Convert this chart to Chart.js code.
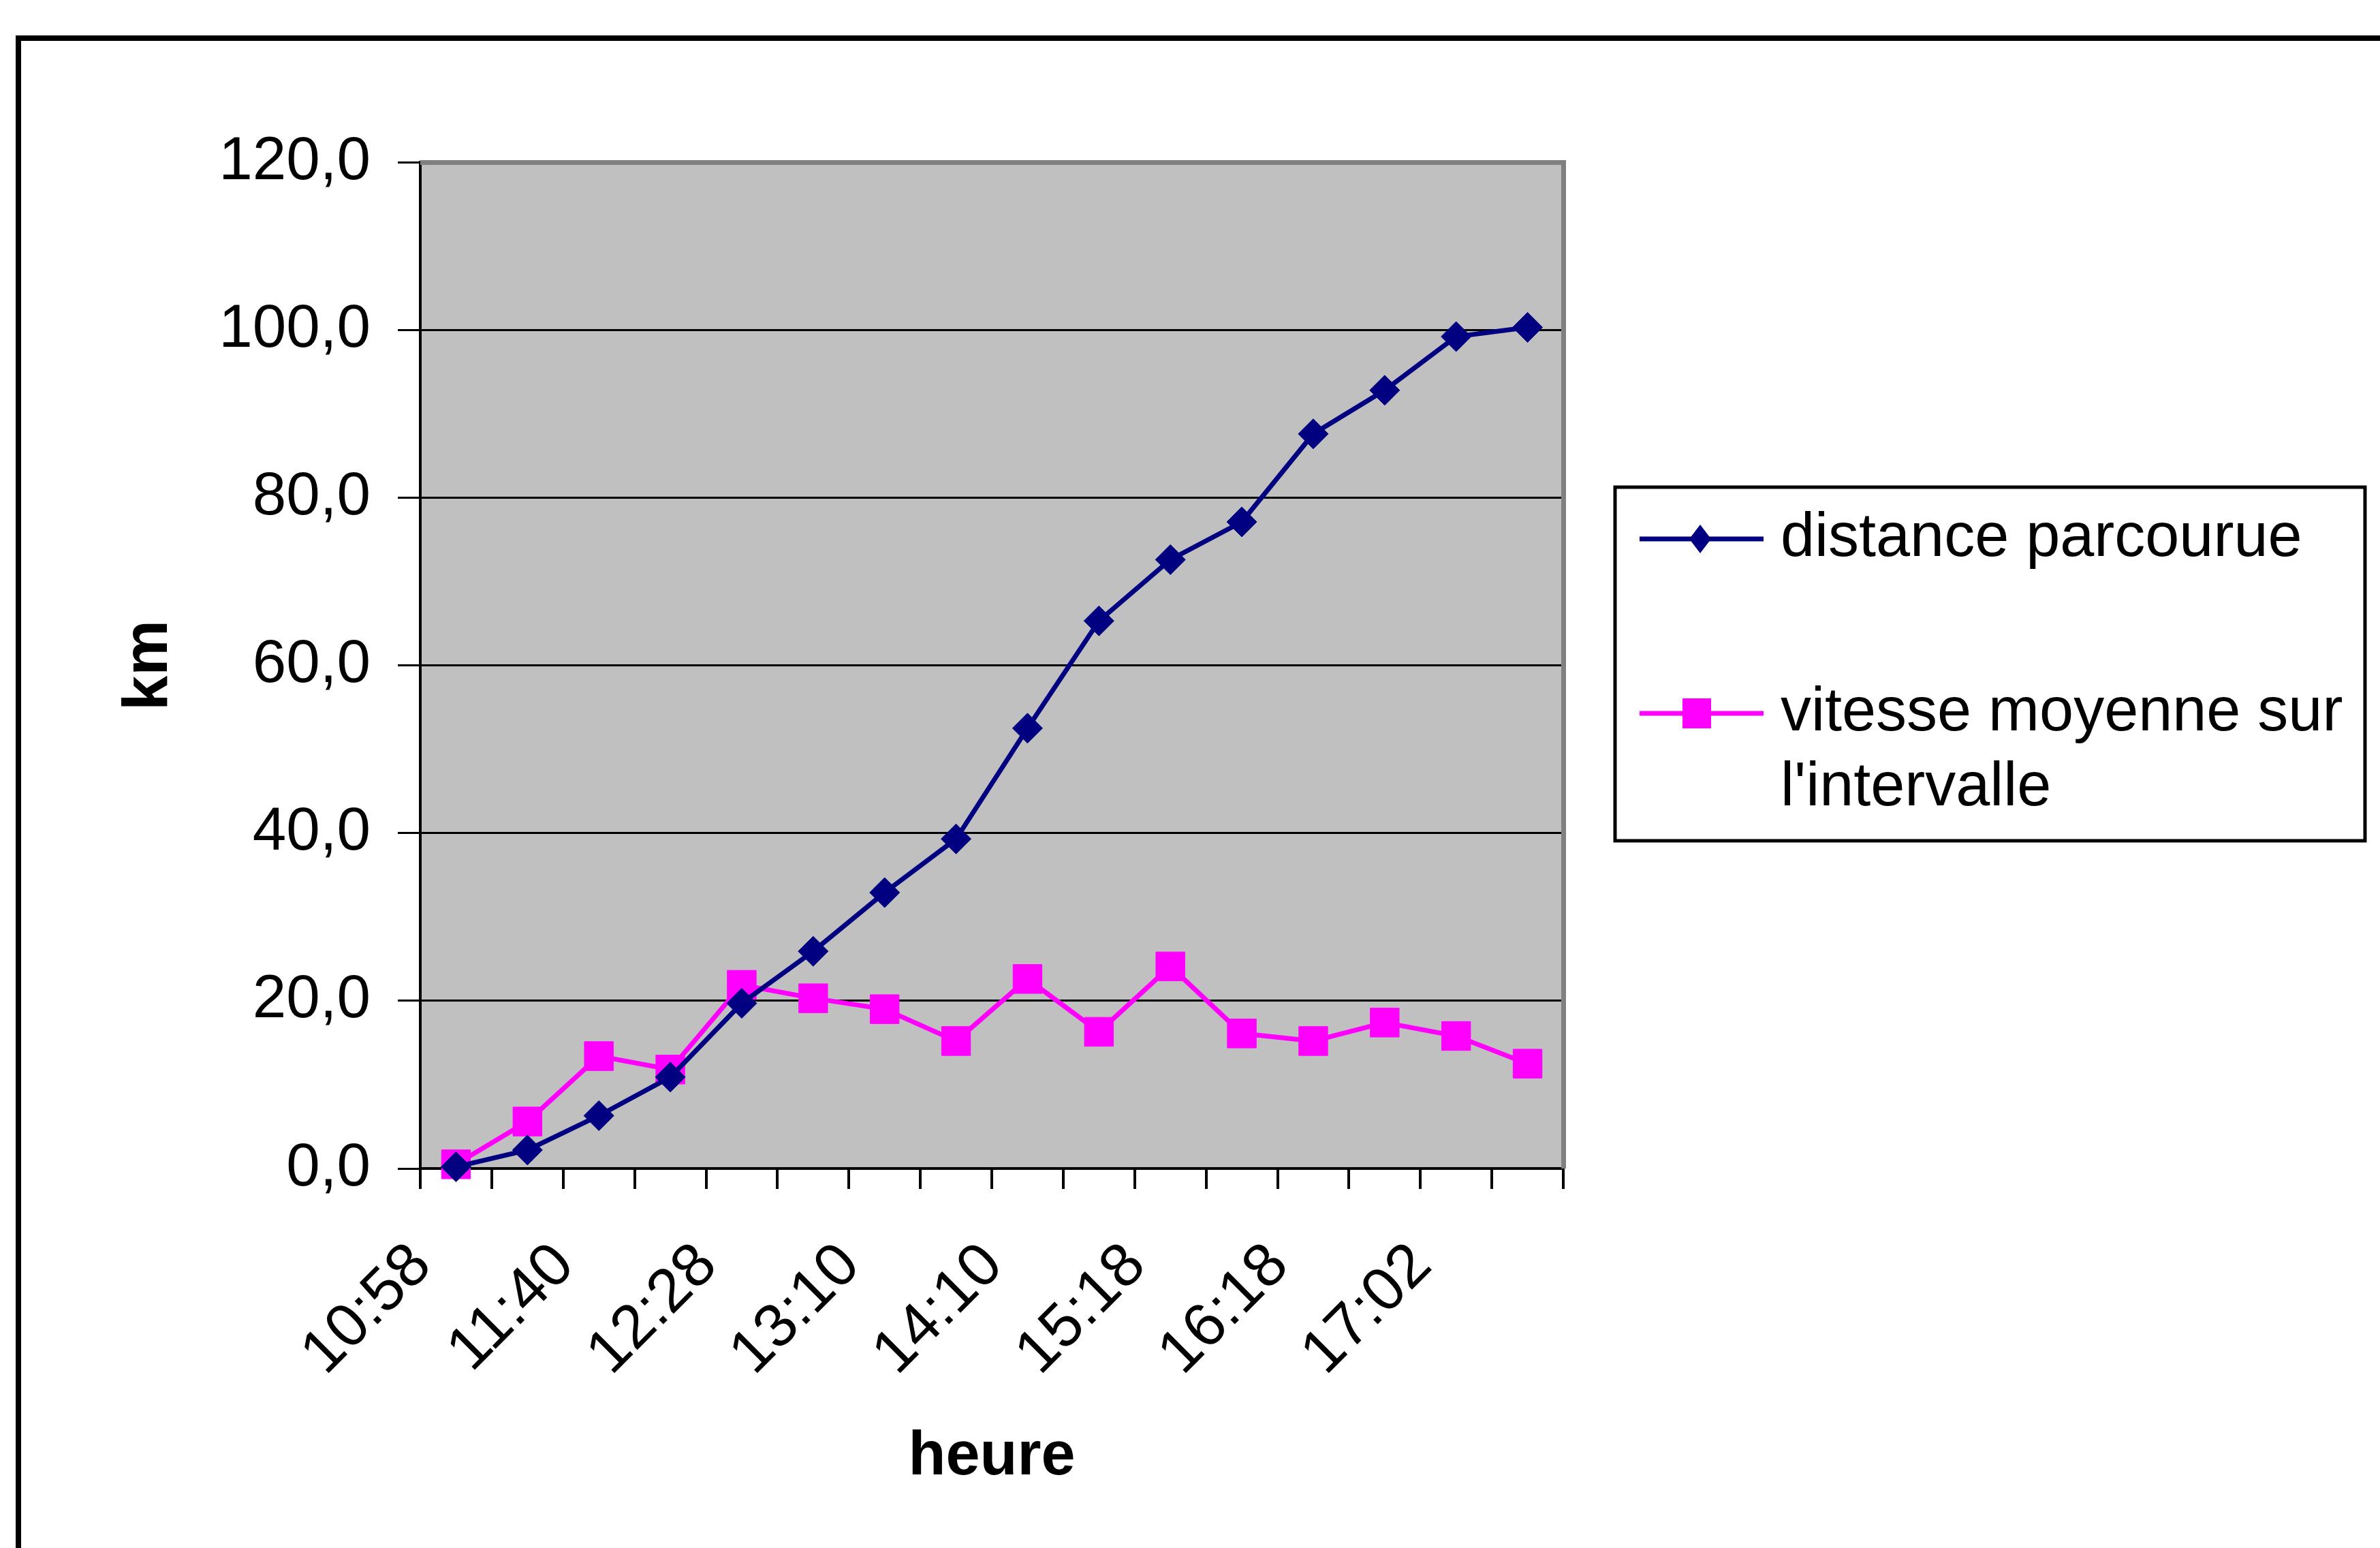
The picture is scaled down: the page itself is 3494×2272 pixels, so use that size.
<!DOCTYPE html>
<html>
<head>
<meta charset="utf-8">
<script src="https://cdn.jsdelivr.net/npm/chart.js@4"></script>
<style>
  html, body { margin: 0; padding: 0; background: #fff; }
  canvas { display: block; }
</style>
</head>
<body>
<canvas id="chart" width="3494" height="2272"></canvas>
<script>
// heures de relevé (une sur deux affichée sur l'axe)
const heures = ['10:58', '11:20', '11:40', '12:02', '12:28', '12:47', '13:10', '13:35',
                '14:10', '14:56', '15:18', '15:35', '16:18', '16:36', '17:02', '17:08'];
// distance parcourue (km)
const distance = [0.2, 2.2, 6.3, 10.9, 19.7, 25.9, 32.9, 39.3, 52.5, 65.3, 72.6, 77.1, 87.6, 92.8, 99.2, 100.3];
// vitesse moyenne sur l'intervalle (km/h)
const vitesse = [0.5, 5.6, 13.4, 11.8, 21.9, 20.3, 19.0, 15.2, 22.6, 16.3, 24.1, 16.1, 15.2, 17.4, 15.8, 12.5];
const yTicks = [0, 20, 40, 60, 80, 100, 120];
const legendLines = [['distance parcourue'], ['vitesse moyenne sur', "l'intervalle"]];

const FONT = "'Liberation Sans', Arial, sans-serif";
const NAVY = '#000080';
const MAGENTA = '#FF00FF';

// fond gris, cadre de la zone de tracé, cadre extérieur et légende
const decor = {
    id: 'decor',
    beforeDraw(chart) {
        const ctx = chart.ctx;
        const a = chart.chartArea;
        ctx.save();
        ctx.fillStyle = '#fff';
        ctx.fillRect(0, 0, chart.width, chart.height);
        ctx.fillStyle = '#000';
        ctx.fillRect(23, 52, chart.width - 23, 8);
        ctx.fillRect(23, 52, 8, chart.height - 52);
        ctx.fillStyle = '#C0C0C0';
        ctx.fillRect(a.left, a.top, a.right - a.left, a.bottom - a.top);
        ctx.restore();
    },
    beforeDatasetsDraw(chart) {
        const ctx = chart.ctx;
        const a = chart.chartArea;
        ctx.save();
        ctx.fillStyle = '#808080';
        ctx.fillRect(a.left, a.top - 3, a.right - a.left + 3, 7);
        ctx.fillRect(a.right - 3, a.top - 3, 7, a.bottom - a.top + 3);
        ctx.restore();
    },
    afterDraw(chart) {
        const ctx = chart.ctx;
        ctx.save();
        ctx.strokeStyle = '#000';
        ctx.lineWidth = 5;
        ctx.strokeRect(2371, 715, 1101, 519);
        ctx.font = '90px ' + FONT;
        ctx.textBaseline = 'middle';
        ctx.fillStyle = '#000';
        const rows = [791, 1047];
        chart.data.datasets.forEach((ds, i) => {
            const y = rows[i];
            ctx.strokeStyle = ds.borderColor;
            ctx.lineWidth = 7;
            ctx.beginPath();
            ctx.moveTo(2407, y);
            ctx.lineTo(2589, y);
            ctx.stroke();
            ctx.fillStyle = ds.pointBackgroundColor;
            ctx.beginPath();
            if (ds.pointStyle === 'rect') {
                ctx.rect(2470, y - 22, 42, 44);
            } else {
                ctx.moveTo(2496, y - 21);
                ctx.lineTo(2512, y);
                ctx.lineTo(2496, y + 21);
                ctx.lineTo(2480, y);
                ctx.closePath();
            }
            ctx.fill();
            ctx.fillStyle = '#000';
            legendLines[i].forEach((t, j) => ctx.fillText(t, 2614, y + j * 110));
        });
        ctx.restore();
    }
};

new Chart(document.getElementById('chart'), {
    type: 'line',
    data: {
        labels: heures,
        datasets: [{
            label: 'distance parcourue',
            data: distance,
            borderColor: NAVY,
            backgroundColor: NAVY,
            pointBackgroundColor: NAVY,
            pointBorderColor: NAVY,
            borderWidth: 7,
            pointStyle: 'rectRot',
            pointRadius: 22,
            pointBorderWidth: 1,
            tension: 0,
            clip: false
        }, {
            label: "vitesse moyenne sur l'intervalle",
            data: vitesse,
            borderColor: MAGENTA,
            backgroundColor: MAGENTA,
            pointBackgroundColor: MAGENTA,
            pointBorderColor: MAGENTA,
            borderWidth: 7,
            pointStyle: 'rect',
            pointRadius: 30,
            pointBorderWidth: 1,
            tension: 0,
            clip: false
        }]
    },
    options: {
        responsive: false,
        animation: false,
        events: [],
        layout: { padding: { left: 0, top: 238, right: 1199, bottom: 0 } },
        plugins: { legend: { display: false }, tooltip: { enabled: false } },
        scales: {
            x: {
                offset: true,
                afterFit(scale) { scale.height = 557; },
                border: { color: '#000', width: 4 },
                grid: { offset: true, drawOnChartArea: false, drawTicks: true, tickLength: 30, color: '#000', lineWidth: 4 },
                ticks: {
                    autoSkip: false,
                    minRotation: 45,
                    maxRotation: 45,
                    padding: 60,
                    labelOffset: -50,
                    color: '#000',
                    font: { family: FONT, size: 90 },
                    callback: function (val, i) { return i % 2 === 0 ? this.getLabelForValue(val) : ''; }
                },
                title: {
                    display: true,
                    text: 'heure',
                    color: '#000',
                    font: { family: FONT, size: 90, weight: 'bold' },
                    padding: { top: 0, bottom: 79 }
                }
            },
            y: {
                min: 0,
                max: 120,
                afterFit(scale) { scale.width = 617; },
                afterBuildTicks(scale) { scale.ticks = yTicks.map(v => ({ value: v })); },
                border: { color: '#000', width: 4 },
                grid: { color: '#000', lineWidth: 3, tickLength: 33, drawTicks: true },
                ticks: {
                    padding: 40,
                    color: '#000',
                    font: { family: FONT, size: 89 },
                    callback: v => v.toFixed(1).replace('.', ',')
                },
                title: {
                    display: true,
                    text: 'km',
                    color: '#000',
                    font: { family: FONT, size: 92, weight: 'bold' },
                    padding: { top: 164, bottom: 0 }
                }
            }
        }
    },
    plugins: [decor]
});
</script>
</body>
</html>
